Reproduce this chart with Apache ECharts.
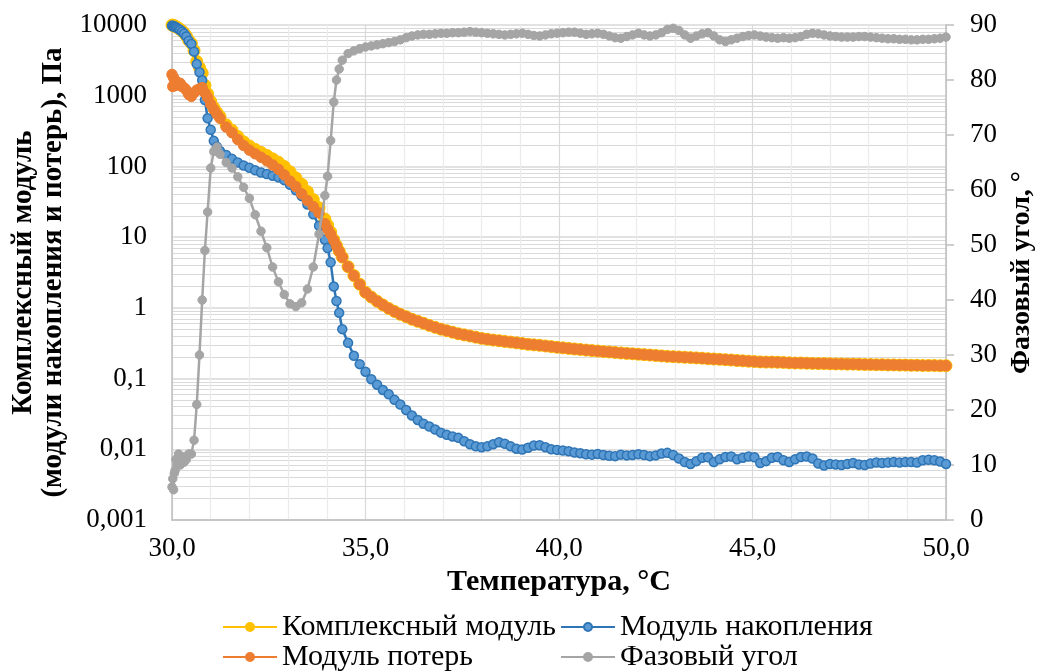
<!DOCTYPE html>
<html>
<head>
<meta charset="utf-8">
<script src="https://cdn.jsdelivr.net/npm/echarts@6/dist/echarts.min.js"></script>
<style>
  html, body { margin: 0; padding: 0; background: #ffffff; }
  #chart { width: 1044px; height: 672px; }
</style>
</head>
<body>
<div id="chart"></div>
<script>
// Temperature sweep, °C
const temperatureC = [
  30.00, 30.02, 30.04, 30.06, 30.08, 30.10, 30.13, 30.17, 30.21, 30.26,
  30.31, 30.37, 30.43, 30.50, 30.57, 30.64, 30.71, 30.78, 30.85, 30.92,
  31.00, 31.08, 31.16, 31.24,
  31.40, 31.55, 31.70, 31.85, 32.00, 32.15, 32.30, 32.45, 32.60, 32.75,
  32.90, 33.05, 33.20, 33.35, 33.50, 33.65, 33.80, 33.95, 34.02, 34.10,
  34.18, 34.25, 34.32, 34.40, 34.55, 34.70, 34.85, 35.00, 35.15, 35.30,
  35.45, 35.60, 35.75,
  35.90, 36.05, 36.20, 36.35, 36.50, 36.65, 36.80, 36.95, 37.10, 37.25,
  37.40, 37.55, 37.70, 37.85, 38.00, 38.15, 38.30, 38.45, 38.60, 38.75,
  38.90, 39.05, 39.20, 39.35, 39.50, 39.65, 39.80, 39.95, 40.10, 40.25,
  40.40, 40.55, 40.70, 40.85, 41.00, 41.15, 41.30, 41.45, 41.60, 41.75,
  41.90, 42.05, 42.20, 42.35, 42.50, 42.65, 42.80, 42.95, 43.10, 43.25,
  43.40, 43.55, 43.70, 43.85, 44.00, 44.15, 44.30, 44.45, 44.60, 44.75,
  44.90, 45.05, 45.20, 45.35, 45.50, 45.65, 45.80, 45.95, 46.10, 46.25,
  46.40, 46.55, 46.70, 46.85, 47.00, 47.15, 47.30, 47.45, 47.60, 47.75,
  47.90, 48.05, 48.20, 48.35, 48.50, 48.65, 48.80, 48.95, 49.10, 49.25,
  49.40, 49.55, 49.70, 49.85, 50.00
];

// Комплексный модуль G*, Па
const complexModulus = [
  9990, 9800, 9880, 9650, 9600, 9450, 9300, 8950, 8650, 8250,
  7750, 7000, 6100, 5500, 4350, 3050, 2500, 2100, 1400, 1065,
  830, 680, 580, 508,
  388, 326, 265, 223, 195, 174, 158, 143, 128, 115,
  100, 84, 69, 56, 44, 34, 26, 18, 14.8, 11.8,
  9.2, 7.6, 6.35, 5.22, 3.82, 2.86, 2.16, 1.66, 1.42, 1.24,
  1.10, 0.98, 0.89,
  0.81, 0.75, 0.69, 0.645, 0.605, 0.565, 0.53, 0.50, 0.475, 0.452,
  0.43, 0.415, 0.40, 0.385, 0.37, 0.36, 0.35, 0.343, 0.335, 0.328,
  0.320, 0.313, 0.305, 0.300, 0.295, 0.289, 0.283, 0.277, 0.272, 0.267,
  0.262, 0.258, 0.253, 0.249, 0.245, 0.241, 0.238, 0.234, 0.230, 0.227,
  0.224, 0.221, 0.218, 0.215, 0.212, 0.209, 0.206, 0.204, 0.202, 0.200,
  0.198, 0.196, 0.194, 0.191, 0.189, 0.187, 0.185, 0.183, 0.180, 0.178,
  0.176, 0.174, 0.172, 0.171, 0.171, 0.170, 0.169, 0.167, 0.166, 0.166,
  0.165, 0.164, 0.163, 0.163, 0.162, 0.161, 0.161, 0.160, 0.160, 0.159,
  0.158, 0.158, 0.157, 0.157, 0.156, 0.156, 0.155, 0.155, 0.154, 0.154,
  0.153, 0.153, 0.153, 0.152, 0.152
];

// Модуль накопления G', Па
const storageModulus = [
  9800, 9600, 9700, 9500, 9400, 9300, 9100, 8800, 8500, 8100,
  7600, 6900, 6000, 5400, 4200, 2800, 2150, 1650, 870, 480,
  330, 230, 190, 165,
  145, 128, 114, 103, 96, 88, 82, 78, 74, 70,
  64, 55, 46, 38, 29, 21, 14.5, 9.2, 7.0, 4.4,
  2.0, 1.25, 0.85, 0.50, 0.32, 0.21, 0.16, 0.125, 0.098, 0.082,
  0.069, 0.060, 0.050,
  0.043, 0.036, 0.030, 0.026, 0.023, 0.021, 0.019, 0.0172, 0.0160, 0.0152,
  0.0145, 0.0130, 0.0118, 0.0110, 0.0107, 0.0110, 0.0118, 0.0126, 0.0120, 0.0110,
  0.0102, 0.0099, 0.0105, 0.0113, 0.0114, 0.0107, 0.0100, 0.0098, 0.0096, 0.0094,
  0.0090, 0.0088, 0.0085, 0.0084, 0.0086, 0.0083, 0.0081, 0.0080, 0.0084, 0.0082,
  0.0083, 0.0085, 0.0083, 0.0080, 0.0082, 0.0087, 0.0089, 0.0083, 0.0074, 0.0066,
  0.0062, 0.0068, 0.0076, 0.0077, 0.0066, 0.0072, 0.0078, 0.0079, 0.0072, 0.0076,
  0.0079, 0.0077, 0.0064, 0.0068, 0.0076, 0.0078, 0.0070, 0.0066, 0.0072, 0.0078,
  0.0079, 0.0074, 0.0063, 0.0059, 0.0062, 0.0061, 0.0060, 0.0062, 0.0064, 0.0061,
  0.0060, 0.0063, 0.0065, 0.0064, 0.0065, 0.0066, 0.0065, 0.0066, 0.0066, 0.0065,
  0.0070, 0.0071, 0.0070, 0.0067, 0.0062
];

// Модуль потерь G'', Па
const lossModulus = [
  2000, 1350, 1800, 1450, 1650, 1400, 1550, 1450, 1500, 1350,
  1300, 1200, 1050, 980, 1100, 1200, 1250, 1300, 1100, 950,
  760, 640, 550, 480,
  360, 300, 240, 198, 170, 151, 135, 120, 105, 91,
  76, 62, 52, 41, 33, 27, 22, 15.5, 13.0, 11,
  9.0, 7.5, 6.3, 5.2, 3.8, 2.85, 2.15, 1.65, 1.42, 1.24,
  1.10, 0.98, 0.89,
  0.81, 0.75, 0.69, 0.645, 0.605, 0.565, 0.53, 0.50, 0.475, 0.452,
  0.43, 0.415, 0.40, 0.385, 0.37, 0.36, 0.35, 0.343, 0.335, 0.328,
  0.320, 0.313, 0.305, 0.300, 0.295, 0.289, 0.283, 0.277, 0.272, 0.267,
  0.262, 0.258, 0.253, 0.249, 0.245, 0.241, 0.238, 0.234, 0.230, 0.227,
  0.224, 0.221, 0.218, 0.215, 0.212, 0.209, 0.206, 0.204, 0.202, 0.200,
  0.198, 0.196, 0.194, 0.191, 0.189, 0.187, 0.185, 0.183, 0.180, 0.178,
  0.176, 0.174, 0.172, 0.171, 0.171, 0.170, 0.169, 0.167, 0.166, 0.166,
  0.165, 0.164, 0.163, 0.163, 0.162, 0.161, 0.161, 0.160, 0.160, 0.159,
  0.158, 0.158, 0.157, 0.157, 0.156, 0.156, 0.155, 0.155, 0.154, 0.154,
  0.153, 0.153, 0.153, 0.152, 0.152
];

// Фазовый угол δ, °
const phaseAngle = [
  6.0, 7.5, 5.5, 8.5, 9.0, 11.0, 10.0, 12.0, 10.0, 11.5,
  10.5, 11.0, 12.0, 12.0, 14.5, 21.0, 30.0, 40.0, 49.0, 56.0,
  64.0, 67.0, 67.8, 66.5,
  65.0, 64.0, 62.4, 60.5, 58.5, 55.5, 52.5, 49.5, 46.0, 43.3,
  41.0, 39.3, 38.8, 39.5, 42.0, 46.0, 52.0, 59.0, 62.5, 69.0,
  76.0, 80.0, 82.0, 83.6, 84.8, 85.3, 85.7, 86.0, 86.2, 86.4,
  86.6, 86.8, 87.0,
  87.3, 87.7, 88.0, 88.2, 88.3, 88.3, 88.4, 88.5, 88.5, 88.6,
  88.6, 88.7, 88.8, 88.7, 88.6, 88.5, 88.4, 88.3, 88.2, 88.3,
  88.4, 88.5, 88.3, 88.1, 88.0, 88.2, 88.4, 88.5, 88.6, 88.7,
  88.7, 88.5, 88.3, 88.4, 88.5, 88.3, 88.0, 87.7, 87.6, 87.9,
  88.2, 88.5, 88.2, 88.0, 88.2, 88.6, 89.2, 89.4, 89.0, 88.2,
  87.6, 88.0, 88.4, 88.6, 88.0, 87.3, 87.0, 87.3, 87.6, 87.9,
  88.1, 88.2, 88.0, 87.8, 87.7, 87.6, 87.7, 87.6, 87.7, 87.9,
  88.3, 88.5, 88.4, 88.2, 88.0, 87.9, 87.8, 87.8, 87.8, 87.9,
  87.9, 87.8, 87.7, 87.6, 87.5, 87.5, 87.4, 87.4, 87.3, 87.3,
  87.4, 87.4, 87.5, 87.6, 87.8
];

const seriesNames = ['Комплексный модуль', 'Модуль накопления', 'Модуль потерь', 'Фазовый угол'];

const FONT = 'Liberation Serif';
const GRID_COLOR = '#D9D9D9';
const AXIS_COLOR = '#BFBFBF';

const pairs = (values) => temperatureC.map((t, i) => [t, values[i]]);
const decimalComma = (v) => String(Number(Number(v).toPrecision(6))).replace('.', ',');

function lineSeries(name, values, color, opts) {
  return Object.assign({
    name: name,
    type: 'line',
    data: pairs(values),
    symbol: 'circle',
    symbolSize: 9,
    showSymbol: true,
    lineStyle: { color: color, width: 2.5 },
    itemStyle: { color: color, borderColor: color, borderWidth: 1 },
    emphasis: { disabled: true },
    animation: false
  }, opts || {});
}

const legendText = { fontFamily: FONT, fontSize: 30, lineHeight: 30, color: '#000' };

const chart = echarts.init(document.getElementById('chart'), null, { renderer: 'canvas' });

chart.setOption({
  backgroundColor: '#ffffff',
  animation: false,
  textStyle: { fontFamily: FONT, color: '#000' },
  grid: { left: 172, right: 96, top: 25, bottom: 152, containLabel: false },
  legend: [
    {
      data: [seriesNames[0], seriesNames[2]],
      orient: 'vertical',
      left: 222, top: 612,
      itemWidth: 54, itemHeight: 10, itemGap: 0,
      padding: 0,
      textStyle: legendText
    },
    {
      data: [seriesNames[1], seriesNames[3]],
      orient: 'vertical',
      left: 560, top: 612,
      itemWidth: 54, itemHeight: 10, itemGap: 0,
      padding: 0,
      textStyle: legendText
    }
  ],
  xAxis: {
    type: 'value',
    min: 30, max: 50, interval: 5,
    name: 'Температура, °C',
    nameLocation: 'middle',
    nameGap: 47,
    nameTextStyle: { fontFamily: FONT, fontSize: 30, fontWeight: 'bold', color: '#000' },
    axisLine: { show: true, onZero: false, lineStyle: { color: AXIS_COLOR, width: 1.5 } },
    axisTick: { show: false },
    axisLabel: {
      margin: 15, fontFamily: FONT, fontSize: 27, color: '#000',
      formatter: (v) => v.toFixed(1).replace('.', ',')
    },
    splitLine: { show: true, lineStyle: { color: GRID_COLOR, width: 1.2 } },
    minorTick: { show: false, splitNumber: 5 },
    minorSplitLine: { show: true, lineStyle: { color: '#EBEBEB', width: 1.2 } }
  },
  yAxis: [
    {
      type: 'log',
      logBase: 10,
      min: 0.001, max: 10000,
      splitNumber: 7,
      name: 'Комплексный модуль\n(модули накопления и потерь), Па',
      nameLocation: 'middle',
      nameGap: 100,
      nameTextStyle: { fontFamily: FONT, fontSize: 29, fontWeight: 'bold', lineHeight: 30, color: '#000' },
      axisLine: { show: true, lineStyle: { color: AXIS_COLOR, width: 1.5 } },
      axisTick: { show: false },
      axisLabel: { margin: 25, fontFamily: FONT, fontSize: 27, color: '#000', formatter: decimalComma },
      splitLine: { show: true, lineStyle: { color: GRID_COLOR, width: 1.5 } },
      minorTick: { show: false, splitNumber: 9 },
      minorSplitLine: { show: true, lineStyle: { color: GRID_COLOR, width: 1.2 } }
    },
    {
      type: 'value',
      min: 0, max: 90, interval: 10,
      position: 'right',
      name: 'Фазовый угол, °',
      nameLocation: 'middle',
      nameRotate: 90,
      nameGap: 62,
      nameTextStyle: { fontFamily: FONT, fontSize: 28, fontWeight: 'bold', color: '#000' },
      axisLine: { show: true, lineStyle: { color: AXIS_COLOR, width: 1.5 } },
      axisTick: { show: true, inside: false, length: 8, lineStyle: { color: AXIS_COLOR, width: 1.5 } },
      axisLabel: { margin: 24, fontFamily: FONT, fontSize: 27, color: '#000' },
      splitLine: { show: false }
    }
  ],
  series: [
    lineSeries(seriesNames[0], complexModulus, '#FFC000', { symbolSize: 12, z: 2 }),
    lineSeries(seriesNames[1], storageModulus, '#2E75B6', {
      symbolSize: 9, z: 3,
      itemStyle: { color: '#5B9BD5', borderColor: '#2E75B6', borderWidth: 1.5 }
    }),
    lineSeries(seriesNames[2], lossModulus, '#ED7D31', { symbolSize: 10.5, z: 4 }),
    lineSeries(seriesNames[3], phaseAngle, '#A5A5A5', { symbolSize: 8.5, z: 5, yAxisIndex: 1 })
  ]
});
</script>
</body>
</html>
